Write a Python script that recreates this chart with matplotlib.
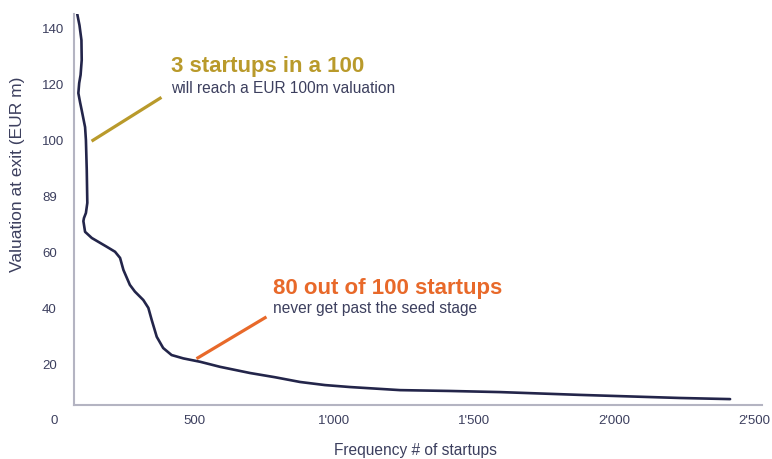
import matplotlib
matplotlib.use("Agg")
import matplotlib.pyplot as plt

# curve: frequency (# of startups) vs valuation at exit
freq = [83, 91, 98, 99, 95, 90, 87, 93, 99, 111, 114, 117, 119, 114, 107,
        105, 111, 135, 188, 218, 236, 248, 271, 289, 319, 337, 349, 367, 390,
        420, 462, 522, 593, 700, 789, 879, 968, 1057, 1236, 1414, 1593, 1879,
        2236, 2415]
valuation = [145, 141, 135.7, 128.6, 123.3, 120.4, 116.8, 113.6, 110.7, 104.7,
             100.1, 89.4, 77.7, 74.1, 72.3, 71.2, 67.4, 65.2, 62.1, 60.3, 58.1,
             53.8, 48.5, 46.1, 43.1, 40.3, 36.0, 30.0, 26.0, 23.5, 22.3, 21.1,
             19.3, 17.1, 15.6, 13.9, 12.8, 12.1, 11.0, 10.7, 10.3, 9.3, 8.2,
             7.8]

y_ticks = [20, 40, 60, 80, 100, 120, 140]
y_labels = ["20", "40", "60", "89", "100", "120", "140"]
x_ticks = [0, 500, 1000, 1500, 2000, 2500]
x_labels = ["0", "500", "1'000", "1'500", "2'000", "2'500"]

NAVY = "#23254a"
TXT = "#3c3f5e"
GOLD = "#b99a2b"
ORANGE = "#e8692a"
SPINE = "#b4b4c2"

plt.rcParams["font.family"] = ["Liberation Sans", "DejaVu Sans"]

fig = plt.figure(figsize=(7.72, 4.59), dpi=100)
ax = fig.add_axes([54 / 772, 38 / 459, 708 / 772, 407 / 459])

ax.plot(freq, valuation, color=NAVY, lw=1.9, solid_joinstyle="round",
        solid_capstyle="round")

ax.set_xlim(0, 2529)
ax.set_ylim(0, 145)

# axis lines sit inside the plot, like the original
x0, y0 = 71, 5.7
ax.spines["left"].set_position(("data", x0))
ax.spines["bottom"].set_position(("data", y0))
ax.spines["left"].set_bounds(y0, 145)
ax.spines["bottom"].set_bounds(x0, 2529)
for s in ["left", "bottom"]:
    ax.spines[s].set_color(SPINE)
    ax.spines[s].set_linewidth(1.5)
ax.spines["top"].set_visible(False)
ax.spines["right"].set_visible(False)

ax.set_yticks(y_ticks)
ax.set_yticklabels(y_labels, ha="left")
ax.set_xticks(x_ticks)
ax.set_xticklabels(x_labels)
ax.tick_params(axis="y", length=0, pad=23, labelsize=9.5, labelcolor=TXT)
ax.tick_params(axis="x", length=0, pad=7, labelsize=9.5, labelcolor=TXT)

ax.set_xlabel("Frequency # of startups", fontsize=11.2, color=TXT)
ax.xaxis.set_label_coords(0.51, -0.053)
ax.set_ylabel("Valuation at exit (EUR m)", fontsize=12.5, color=TXT)
ax.yaxis.set_label_coords(-0.041, 0.605)

# callouts
ax.plot([139, 379], [100, 115], color=GOLD, lw=2.3)
ax.text(418, 124.3, "3 startups in a 100", color=GOLD, fontsize=16,
        fontweight="bold")
ax.text(418, 116.8, "will reach a EUR 100m valuation", color=TXT, fontsize=11.2)

ax.plot([514, 754], [22.5, 36.8], color=ORANGE, lw=2.3)
ax.text(782, 45.2, "80 out of 100 startups", color=ORANGE, fontsize=16,
        fontweight="bold")
ax.text(782, 38.5, "never get past the seed stage", color=TXT, fontsize=11.2)

fig.savefig("out.png", dpi=100)
